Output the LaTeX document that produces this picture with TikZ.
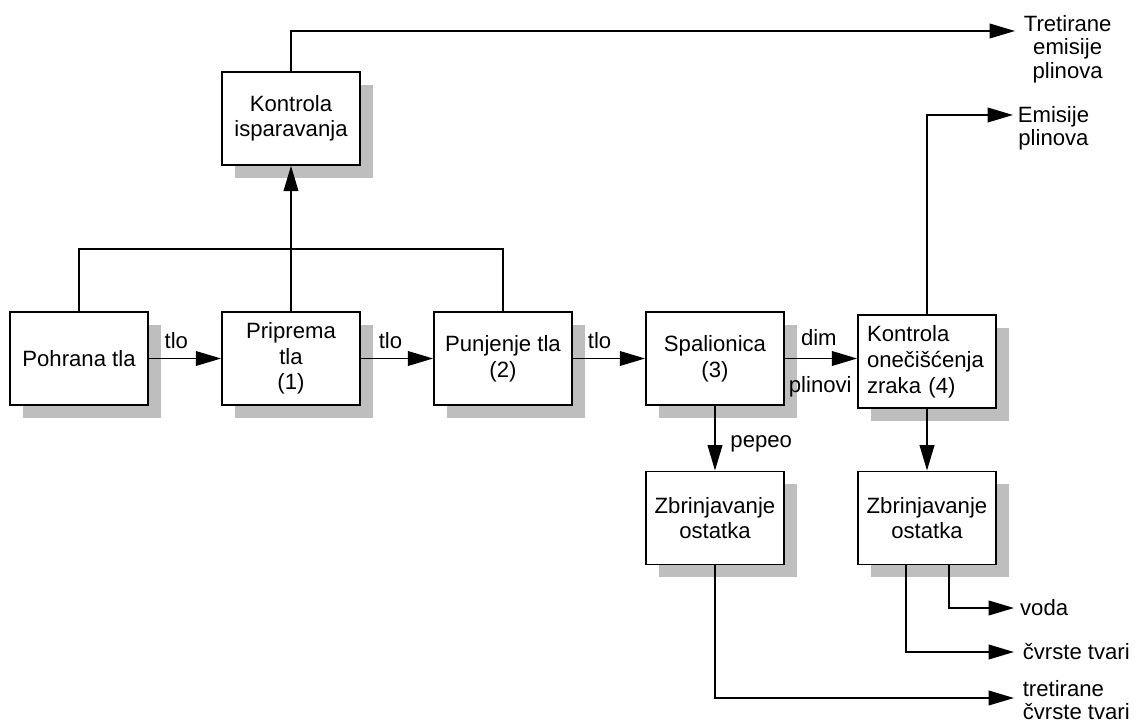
\documentclass[tikz,border=0pt]{standalone}
\usepackage{fontspec}
\setmainfont{Liberation Sans}
\usetikzlibrary{positioning,arrows.meta,shadows}
\definecolor{shadowgray}{RGB}{190,190,190}
\tikzset{
	node distance=54.2pt,
	every path/.style={line width=1.2pt},
	box/.style={draw, line width=1.3pt, fill=white, minimum width=103.5pt, minimum height=69.75pt, align=center,
		font=\fontsize{16.6}{19.2}\selectfont,
		drop shadow={shadow xshift=9.5pt, shadow yshift=-9.75pt, fill=shadowgray, opacity=1, draw=none}},
	lbl/.style={inner sep=2pt, font=\fontsize{16.6}{19.2}\selectfont},
	outtext/.style={inner sep=0pt, font=\fontsize{16.6}{17.5}\selectfont},
	flow/.style={-{Triangle[length=19pt,width=11pt]}}
}
\begin{document}
\begin{tikzpicture}[x=0.75pt, y=-0.75pt]
	\useasboundingbox (0,0) rectangle (1140,724);
	% glavni tok
	\node[box] (pohrana) at (79,358.5) {Pohrana tla};
	\node[box, right=of pohrana] (priprema) {Priprema\\tla\\(1)};
	\node[box, right=of priprema] (punjenje) {Punjenje tla\\(2)};
	\node[box, right=of punjenje] (spalionica) {Spalionica\\(3)};
	\node[box, right=of spalionica, yshift=-2.5pt, align=left, text width=90pt] (zrak) {Kontrola\\onečišćenja\\zraka (4)};
	\node[box, above=109pt of priprema] (isparavanje) {Kontrola\\isparavanja};
	\node[box, below=48.5pt of spalionica] (ostatak1) {Zbrinjavanje\\ostatka};
	\node[box, below=46pt of zrak] (ostatak2) {Zbrinjavanje\\ostatka};

	% krajevi izlaza
	\coordinate (tretirane tip) at (1015,31);
	\coordinate (emisije tip) at (1013,115);
	\coordinate (voda tip) at (1014,608);
	\coordinate (cvrste tip) at (1014,652);
	\coordinate (tretcvrste tip) at (1014,698);
	\node[outtext, align=center, right=6pt of tretirane tip, yshift=-13.5pt] (tretirane) {Tretirane\\emisije\\plinova};
	\node[outtext, align=center, right=3pt of emisije tip, yshift=-9.75pt] (emisije) {Emisije\\plinova};
	\node[outtext, right=4pt of voda tip] (voda) {voda};
	\node[outtext, right=6pt of cvrste tip] (cvrste) {čvrste tvari};
	\node[outtext, align=left, right=6pt of tretcvrste tip, yshift=-1.5pt] (tretcvrste) {tretirane\\čvrste tvari};

	\draw[flow] (pohrana) -- node[lbl, above=5pt, pos=0.38]{tlo} (priprema);
	\draw[flow] (priprema) -- node[lbl, above=5pt, pos=0.41]{tlo} (punjenje);
	\draw[flow] (punjenje) -- node[lbl, above=5pt, pos=0.37]{tlo} (spalionica);
	\draw[flow] (spalionica.east) -- node[lbl, above=7pt, pos=0.47]{dim}
		node[lbl, below=11pt, pos=0.49]{plinovi} (spalionica.east -| zrak.west);
	\draw[flow] (spalionica) -- node[lbl, right=9pt, pos=0.58]{pepeo} (ostatak1);
	\draw[flow] (zrak) -- (ostatak2);

	% pare
	\draw (pohrana.north) -- ++(0,-62) -| (punjenje.north);
	\draw[flow] (priprema) -- (isparavanje);

	% izlazi
	\draw[flow] (isparavanje) |- (tretirane tip);
	\draw[flow] (zrak) |- (emisije tip);
	\draw[flow] ([xshift=16.5pt]ostatak2.south) |- (voda tip);
	\draw[flow] ([xshift=-15.75pt]ostatak2.south) |- (cvrste tip);
	\draw[flow] (ostatak1) |- (tretcvrste tip);
\end{tikzpicture}
\end{document}
